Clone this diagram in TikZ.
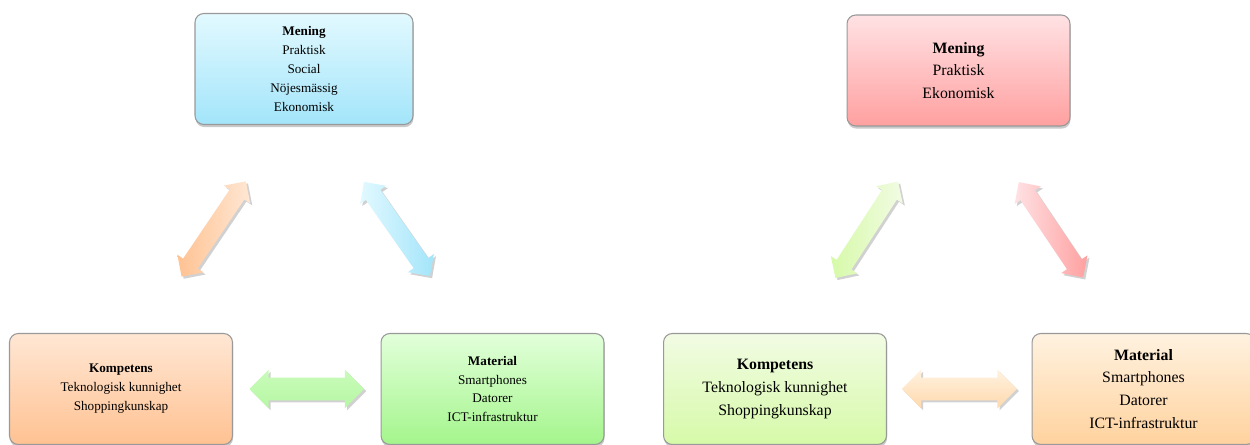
\documentclass[tikz,border=0pt]{standalone}
\usepackage{fontspec}
\setmainfont{Liberation Serif}
\usetikzlibrary{shapes.arrows, shadows, calc}

% Box and arrow colours
\definecolor{blueTop}{RGB}{226,249,255}
\definecolor{blueBot}{RGB}{163,229,250}
\definecolor{redTop}{RGB}{255,226,228}
\definecolor{redBot}{RGB}{255,160,160}
\definecolor{orangeTop}{RGB}{255,231,212}
\definecolor{orangeBot}{RGB}{255,194,146}
\definecolor{greenTop}{RGB}{226,255,218}
\definecolor{greenBot}{RGB}{164,245,140}
\definecolor{limeTop}{RGB}{242,251,228}
\definecolor{limeBot}{RGB}{214,250,168}
\definecolor{peachTop}{RGB}{255,242,224}
\definecolor{peachBot}{RGB}{255,210,158}

\begin{document}
\begin{tikzpicture}[x=0.02cm, y=-0.02cm, line join=round,
	box/.style={draw=gray!80, line width=0.6pt, rounded corners=5pt,
		align=center, inner sep=0pt, minimum width=4.46cm, minimum height=2.22cm,
		drop shadow={shadow xshift=0.3pt, shadow yshift=-1.5pt, opacity=0.35, fill=black!60}},
	smalltxt/.style={font=\fontsize{7.5}{10.8}\selectfont},
	bigtxt/.style={font=\fontsize{9}{13}\selectfont},
	link/.style={double arrow, inner xsep=0pt, inner ysep=0.17cm, minimum height=2.3cm,
		double arrow head extend=0.14cm,
		drop shadow={shadow xshift=1.2pt, shadow yshift=-1.2pt, opacity=0.3, fill=black!60}},
	hlink/.style={link, inner ysep=0.22cm, double arrow head extend=0.16cm}]
	% Picture bounds
	\useasboundingbox (0,0) rectangle (1250,445);
	
	% Left triangle
	\node[box, smalltxt, minimum width=4.36cm, top color=blueTop, bottom color=blueBot]
	(meningL) at (304,69) {\textbf{Mening}\\Praktisk\\Social\\Nöjesmässig\\Ekonomisk};
	\node[box, smalltxt, top color=orangeTop, bottom color=orangeBot]
	(kompL) at (121,389) {\textbf{Kompetens}\\Teknologisk kunnighet\\Shoppingkunskap};
	\node[box, smalltxt, top color=greenTop, bottom color=greenBot]
	(matL) at (492.5,389) {\textbf{Material}\\Smartphones\\Datorer\\ICT-infrastruktur};
	
	% Left arrows
	\node[link, rotate=56, left color=orangeBot, right color=orangeTop]
	(kmL) at ($(kompL.north east)!0.5!(meningL.south west)$) {};
	\node[link, rotate=-55, left color=blueTop, right color=blueBot]
	(mmL) at ($(meningL.south east)!0.5!(matL.north west)$) {};
	\node[hlink, top color=greenTop!60!greenBot, bottom color=greenBot!80]
	(kaL) at ($(kompL.east)!0.5!(matL.west)$) {};
	
	% Right triangle
	\node[box, bigtxt, top color=redTop, bottom color=redBot]
	(meningR) at (958.5,70.5) {\textbf{Mening}\\Praktisk\\Ekonomisk};
	\node[box, bigtxt, top color=limeTop, bottom color=limeBot]
	(kompR) at (775,389) {\textbf{Kompetens}\\Teknologisk kunnighet\\Shoppingkunskap};
	\node[box, bigtxt, top color=peachTop, bottom color=peachBot]
	(matR) at (1143.5,389) {\textbf{Material}\\Smartphones\\Datorer\\ICT-infrastruktur};
	
	% Right arrows
	\node[link, rotate=57, left color=limeBot, right color=limeTop]
	(kmR) at ($(kompR.north east)!0.5!(meningR.south west)$) {};
	\node[link, rotate=-56, left color=redTop, right color=redBot]
	(mmR) at ($(meningR.south east)!0.5!(matR.north west)$) {};
	\node[hlink, top color=peachTop, bottom color=peachBot!85]
	(kaR) at ($(kompR.east)!0.5!(matR.west)$) {};
\end{tikzpicture}
\end{document}
